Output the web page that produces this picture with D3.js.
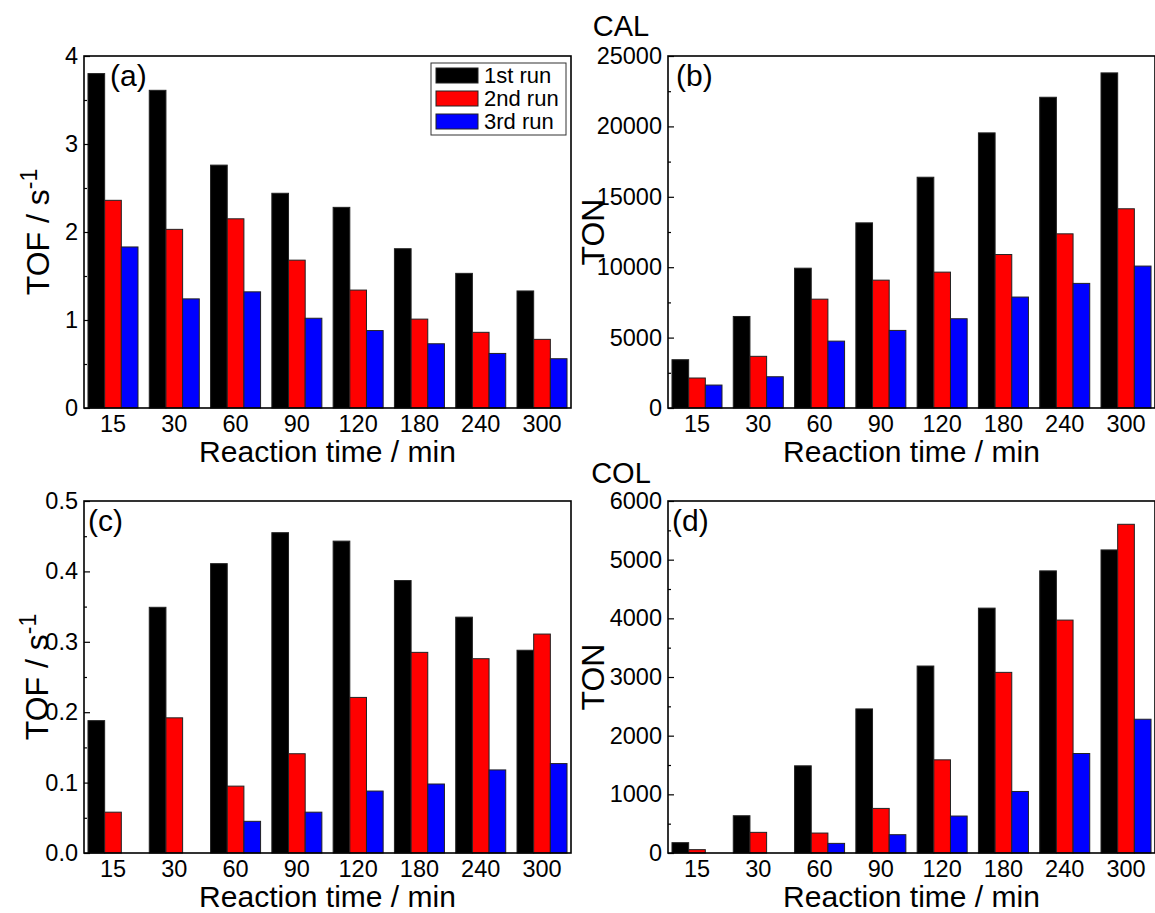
<!DOCTYPE html>
<html>
<head>
<meta charset="utf-8">
<script src="https://cdn.jsdelivr.net/npm/d3@7"></script>
<style>
  html, body { margin: 0; padding: 0; background: #fff; }
  svg { display: block; font-family: "Liberation Sans", Arial, Helvetica, sans-serif; }
</style>
</head>
<body>
<svg id="chart" width="1155" height="913"></svg>
<script>
// Reaction times (min) shown on every x axis
const times = ["15", "30", "60", "90", "120", "180", "240", "300"];
const runs = ["1st run", "2nd run", "3rd run"];
const runColors = ["#000000", "#ff0000", "#0000ff"];

// CAL: turnover frequency (s^-1)
const tofCal1 = [3.80, 3.61, 2.76, 2.44, 2.28, 1.81, 1.53, 1.33];
const tofCal2 = [2.36, 2.03, 2.15, 1.68, 1.34, 1.01, 0.86, 0.78];
const tofCal3 = [1.83, 1.24, 1.32, 1.02, 0.88, 0.73, 0.62, 0.56];

// CAL: turnover number
const tonCal1 = [3430, 6500, 9930, 13150, 16390, 19540, 22070, 23800];
const tonCal2 = [2130, 3670, 7730, 9080, 9650, 10900, 12370, 14150];
const tonCal3 = [1630, 2220, 4750, 5510, 6340, 7880, 8850, 10080];

// COL: turnover frequency (s^-1)
const tofCol1 = [0.188, 0.349, 0.411, 0.455, 0.443, 0.387, 0.335, 0.288];
const tofCol2 = [0.058, 0.192, 0.095, 0.141, 0.221, 0.285, 0.276, 0.311];
const tofCol3 = [0, 0, 0.045, 0.058, 0.088, 0.098, 0.118, 0.127];

// COL: turnover number
const tonCol1 = [176, 635, 1486, 2456, 3187, 4174, 4809, 5166];
const tonCol2 = [57, 352, 340, 760, 1588, 3079, 3970, 5603];
const tonCol3 = [0, 0, 164, 312, 630, 1049, 1696, 2280];

// Y tick values (major / minor) per panel
const tofCalTicks = [0, 1, 2, 3, 4];
const tofCalMinor = [0.5, 1.5, 2.5, 3.5];
const tonCalTicks = [0, 5000, 10000, 15000, 20000, 25000];
const tonCalMinor = [2500, 7500, 12500, 17500, 22500];
const tofColTicks = [0, 0.1, 0.2, 0.3, 0.4, 0.5];
const tofColMinor = [0.05, 0.15, 0.25, 0.35, 0.45];
const tonColTicks = [0, 1000, 2000, 3000, 4000, 5000, 6000];
const tonColMinor = [500, 1500, 2500, 3500, 4500, 5500];

const panels = [
  { tag: "(a)", series: [tofCal1, tofCal2, tofCal3], yMax: 4, ticks: tofCalTicks, minor: tofCalMinor,
    fmt: d3.format("d"), title: "TOF", titleDx: -35, left: 84, top: 56, tagX: 110, legend: true },
  { tag: "(b)", series: [tonCal1, tonCal2, tonCal3], yMax: 25000, ticks: tonCalTicks, minor: tonCalMinor,
    fmt: d3.format("d"), title: "TON", titleDx: -64, left: 668, top: 56, tagX: 676 },
  { tag: "(c)", series: [tofCol1, tofCol2, tofCol3], yMax: 0.5, ticks: tofColTicks, minor: tofColMinor,
    fmt: d3.format(".1f"), title: "TOF", titleDx: -36, left: 84, top: 501, tagX: 88 },
  { tag: "(d)", series: [tonCol1, tonCol2, tonCol3], yMax: 6000, ticks: tonColTicks, minor: tonColMinor,
    fmt: d3.format("d"), title: "TON", titleDx: -64, left: 668, top: 501, tagX: 672 }
];

const W = 487, H = 352;
const FONT = "'Liberation Sans', Arial, sans-serif";
const svg = d3.select("#chart");

// Group headings
svg.append("text").attr("x", 621).attr("y", 36).attr("text-anchor", "middle")
  .attr("font-size", 29).text("CAL");
svg.append("text").attr("x", 621).attr("y", 483).attr("text-anchor", "middle")
  .attr("font-size", 29).text("COL");

panels.forEach(p => {
  const g = svg.append("g").attr("transform", `translate(${p.left},${p.top})`);

  const x = d3.scaleBand().domain(times).range([0, W]).paddingInner(0.184).paddingOuter(0.065);
  const xr = d3.scaleBand().domain(runs).range([0, x.bandwidth()]);
  const y = d3.scaleLinear().domain([0, p.yMax]).range([H, 0]);

  // Bars
  runs.forEach((r, ri) => {
    const vals = p.series[ri];
    g.append("g").selectAll("rect")
      .data(times.map((t, i) => ({ t, v: vals[i] })).filter(d => d.v > 0))
      .join("rect")
      .attr("x", d => x(d.t) + xr(r))
      .attr("y", d => y(d.v))
      .attr("width", xr.bandwidth())
      .attr("height", d => H - y(d.v))
      .attr("fill", runColors[ri])
      .attr("stroke", "#222")
      .attr("stroke-width", 1);
  });

  // Frame
  g.append("rect").attr("x", 0).attr("y", 0).attr("width", W).attr("height", H)
    .attr("fill", "none").attr("stroke", "#000").attr("stroke-width", 1.6);

  // Y axis: major ticks inward with labels, minor ticks inward
  const yAxis = d3.axisLeft(y).tickValues(p.ticks).tickFormat(p.fmt).tickSize(-6).tickPadding(6);
  const ya = g.append("g").call(yAxis);
  ya.select(".domain").remove();
  ya.selectAll("line").attr("stroke", "#000").attr("stroke-width", 1.2);
  ya.selectAll("text").attr("font-size", 23.5).attr("fill", "#000").attr("font-family", FONT);
  const ym = g.append("g").call(d3.axisLeft(y).tickValues(p.minor).tickFormat("").tickSize(-3));
  ym.select(".domain").remove();
  ym.selectAll("line").attr("stroke", "#000").attr("stroke-width", 1.2);

  // X axis labels (no tick marks)
  const xa = g.append("g").attr("transform", `translate(0,${H})`)
    .call(d3.axisBottom(x).tickSize(0).tickPadding(7));
  xa.select(".domain").remove();
  xa.selectAll("text").attr("font-size", 23.5).attr("fill", "#000").attr("font-family", FONT);

  // Axis titles
  g.append("text").attr("x", W / 2).attr("y", H + 54).attr("text-anchor", "middle")
    .attr("font-size", 30).text("Reaction time / min");

  const yt = g.append("text")
    .attr("transform", `translate(${p.titleDx},${H / 2}) rotate(-90)`)
    .attr("text-anchor", "middle").attr("font-size", 32);
  if (p.title === "TOF") {
    yt.append("tspan").text("TOF / s");
    yt.append("tspan").attr("font-size", 23).attr("dy", -12).text("-1");
  } else {
    yt.text("TON");
  }

  // Panel tag
  g.append("text").attr("x", p.tagX - p.left).attr("y", 30).attr("font-size", 30).text(p.tag);

  // Legend
  if (p.legend) {
    const lg = g.append("g").attr("transform", `translate(${431 - p.left},${63 - p.top})`);
    lg.append("rect").attr("width", 135).attr("height", 72)
      .attr("fill", "#fff").attr("stroke", "#333").attr("stroke-width", 1);
    runs.forEach((r, ri) => {
      const row = lg.append("g").attr("transform", `translate(5,${5 + ri * 23})`);
      row.append("rect").attr("width", 42).attr("height", 15)
        .attr("fill", runColors[ri]).attr("stroke", "#222").attr("stroke-width", 1);
      row.append("text").attr("x", 48).attr("y", 15).attr("font-size", 22).text(r);
    });
  }
});
</script>
</body>
</html>
